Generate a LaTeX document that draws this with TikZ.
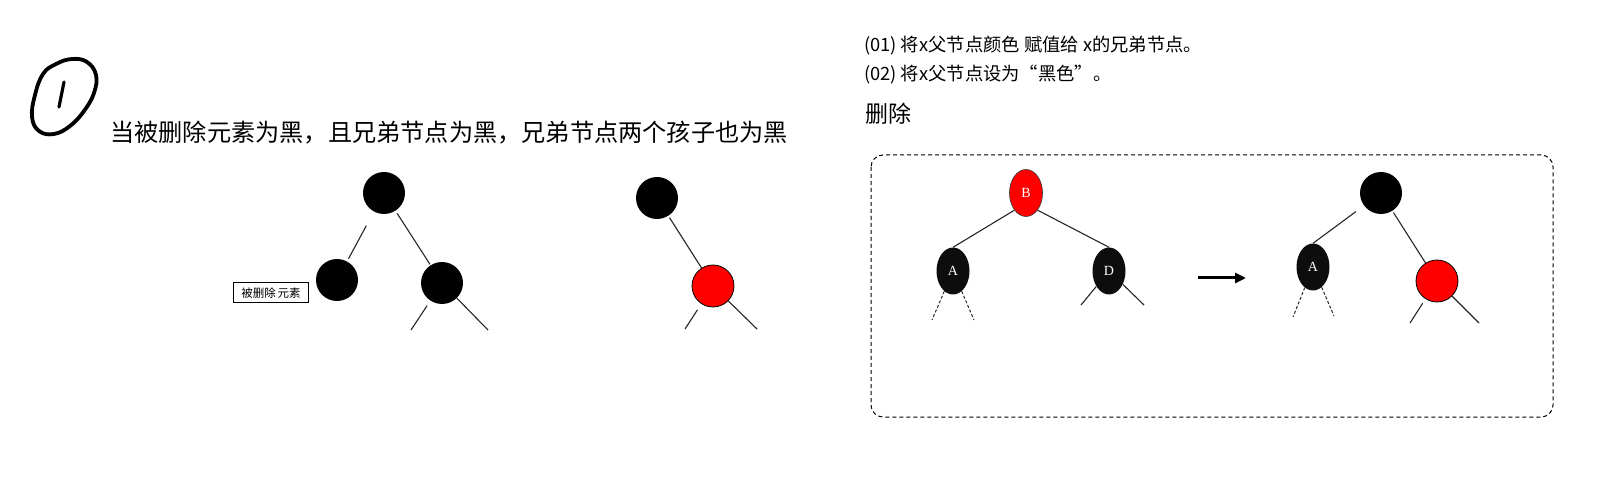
\documentclass[tikz,border=0pt]{standalone}
\usepackage{fontspec}
\setmainfont{Noto Sans CJK SC}
\newfontfamily\letterfont{Liberation Serif}
\usetikzlibrary{shapes.geometric,arrows.meta,calc}
\tikzset{
  blk/.style={circle,fill=black,minimum size=42pt,inner sep=0pt},
  rednode/.style={circle,fill=red,draw=black,line width=0.8pt,minimum size=42pt,inner sep=0pt},
  eblk/.style={ellipse,fill=black!95,minimum width=33pt,minimum height=47pt,inner sep=0pt,text=white,font=\letterfont\fontsize{14}{15}\selectfont},
  ered/.style={ellipse,fill=red,draw=black!80,line width=0.6pt,minimum width=33pt,minimum height=47pt,inner sep=0pt,text=white,font=\letterfont\fontsize{14}{15}\selectfont},
  edge/.style={line width=1.1pt,black!85},
  dedge/.style={line width=1pt,black!85,dash pattern=on 3pt off 2pt},
  txt/.style={anchor=west,inner sep=0pt},
}
\begin{document}
\begin{tikzpicture}[x=1pt,y=-1pt]
\useasboundingbox (0,0) rectangle (1612,486);
\fill[white] (0,0) rectangle (1612,486);

% hand-drawn "1"
\draw[line width=3.8pt,line join=round] plot[smooth cycle,tension=0.7] coordinates
 {(56,64) (72,59) (87,62) (96,75) (94,93) (84,111) (70,126) (54,134) (39,131) (32,117) (35,95) (43,74)};
\draw[line width=3.2pt,line cap=round] (64,82) .. controls (62,94) .. (59,107);

% title
\node[txt,font=\fontsize{24.2}{28}\selectfont] (title) at (110,133) {当被删除元素为黑，且兄弟节点为黑，兄弟节点两个孩子也为黑};

% tree 1
\node[blk] (r1) at (384,193) {};
\node[blk] (l1) at (337,280) {};
\node[blk] (s1) at (442,283) {};
\coordinate (s1a) at (411,330);
\coordinate (s1b) at (488,330);
\draw[edge,shorten <=16pt,shorten >=3pt] (r1) -- (l1);
\draw[edge,shorten <=3pt,shorten >=1pt] (r1) -- (s1);
\draw[edge,shorten <=6pt] (s1) -- (s1a);
\draw[edge] (s1) -- (s1b);
\node[draw,line width=1pt,minimum width=75pt,minimum height=20pt,inner sep=0pt,font=\fontsize{11.5}{12}\selectfont] (lbl) at (271,293) {被删除\,元素};

% tree 2
\node[blk] (r2) at (657,198) {};
\node[rednode] (s2) at (713,286) {};
\coordinate (s2a) at (685,329);
\coordinate (s2b) at (757,329);
\draw[edge,shorten <=2pt] (r2) -- (s2);
\draw[edge,shorten <=7pt] (s2) -- (s2a);
\draw[edge] (s2) -- (s2b);

% right texts
\node[txt,font=\fontsize{18.3}{20}\selectfont] (t1) at (864,46) {(01) 将x父节点颜色 赋值给 x的兄弟节点。};
\node[txt,font=\fontsize{18.3}{20}\selectfont] (t2) at (864,75) {(02) 将x父节点设为“黑色”。};
\node[txt,font=\fontsize{23}{26}\selectfont] (t3) at (865,114) {删除};

% dashed frame
\draw[line width=1pt,dash pattern=on 4pt off 3pt,rounded corners=12pt] (871,155) rectangle (1553,417);

% before tree
\node[ered] (B) at (1026,193) {B};
\node[eblk] (A) at (953,271) {A};
\node[eblk] (D) at (1109,271) {D};
\draw[edge] (B.-124) -- (A.north);
\draw[edge] (B.-56) -- (D.north);
\coordinate (a1) at (932,320);
\coordinate (a2) at (974,320);
\coordinate (d1) at (1081,305);
\coordinate (d2) at (1144,305);
\draw[dedge] (A) -- (a1);
\draw[dedge] (A) -- (a2);
\draw[edge] (D) -- (d1);
\draw[edge] (D) -- (d2);

% arrow
\coordinate (ar1) at (1198,278);
\coordinate (ar2) at (1246,278);
\draw[line width=3pt,-{Triangle[length=11pt,width=10pt]}] (ar1) -- (ar2);

% after tree
\node[blk] (R) at (1381,193) {};
\node[eblk] (A2) at (1313,267) {A};
\node[rednode] (S) at (1437,281) {};
\draw[edge,shorten <=10pt] (R) -- (A2.north);
\draw[edge,shorten <=2pt] (R) -- (S);
\coordinate (b1) at (1293,317);
\coordinate (b2) at (1334,316);
\coordinate (c1) at (1410,323);
\coordinate (c2) at (1479,323);
\draw[dedge] (A2) -- (b1);
\draw[dedge] (A2) -- (b2);
\draw[edge,shorten <=5pt] (S) -- (c1);
\draw[edge] (S) -- (c2);
\end{tikzpicture}
\end{document}
